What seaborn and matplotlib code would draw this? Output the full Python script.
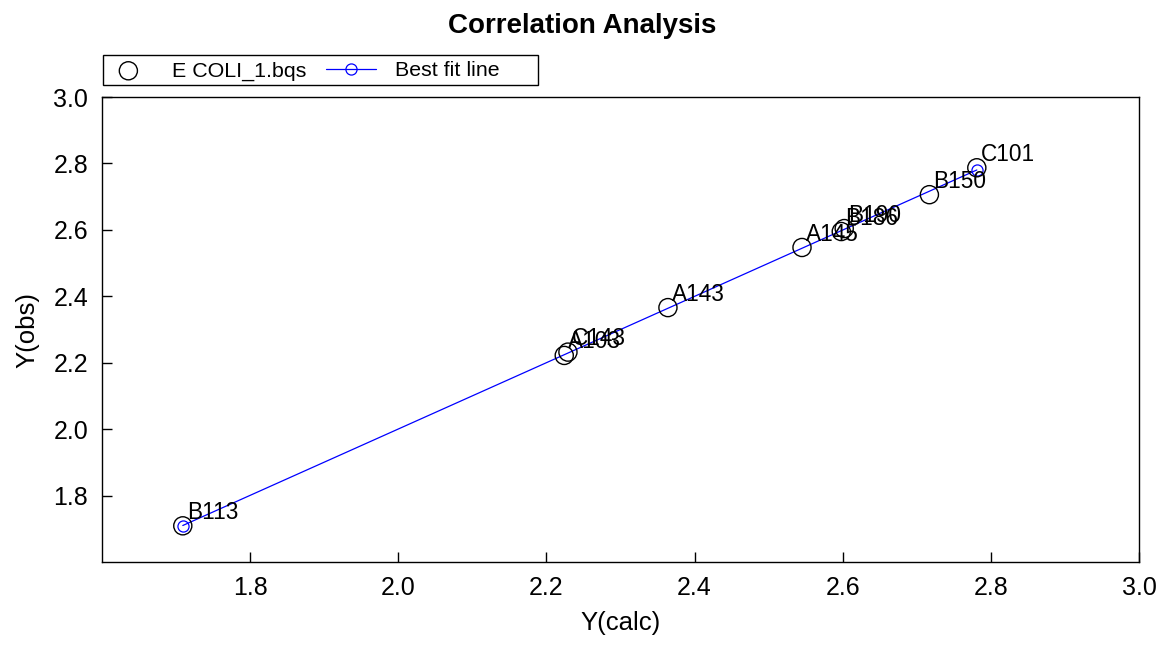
import matplotlib
matplotlib.use('Agg')
import numpy as np
import pandas as pd
import matplotlib.pyplot as plt
import seaborn as sns
from matplotlib.patches import Rectangle

labels = ['B113', 'A103', 'C143', 'A143', 'A145', 'B186', 'B190', 'B150', 'C101']
y_calc = [1.709, 2.224, 2.229, 2.364, 2.545, 2.598, 2.602, 2.717, 2.781]
y_obs = [1.709, 2.222, 2.232, 2.366, 2.547, 2.595, 2.604, 2.706, 2.787]
ticks = [1.8, 2.0, 2.2, 2.4, 2.6, 2.8, 3.0]

df = pd.DataFrame({'label': labels, 'calc': y_calc, 'obs': y_obs})

sns.set_theme(style='white')
plt.rcParams['font.family'] = ['Liberation Sans', 'DejaVu Sans']
plt.rcParams['text.color'] = 'black'
plt.rcParams['axes.labelcolor'] = 'black'
plt.rcParams['xtick.color'] = 'black'
plt.rcParams['ytick.color'] = 'black'

fig = plt.figure(figsize=(11.65, 6.46), dpi=100)
ax = fig.add_axes([0.0876, 0.130, 0.8901, 0.7198])

# best fit line through the data, drawn between the extreme x values
slope, intercept = np.polyfit(df['calc'], df['obs'], 1)
fit_x = np.array([df['calc'].min(), df['calc'].max()])
ax.plot(fit_x, intercept + slope * fit_x, color='blue', lw=0.9,
        marker='o', ms=8, mfc='none', mec='blue', mew=0.9,
        label='Best fit line', zorder=2)

sns.scatterplot(data=df, x='calc', y='obs', ax=ax, s=170, facecolor='none',
                edgecolor='black', linewidth=1.0, label='E COLI_1.bqs', zorder=3)

for _, r in df.iterrows():
    ax.annotate(r['label'], (r['calc'], r['obs']), xytext=(3, 5),
                textcoords='offset points', ha='left', va='baseline', fontsize=16.3)

ax.set_xlim(1.6, 3.0)
ax.set_ylim(1.6, 3.0)
ax.set_xticks(ticks)
ax.set_yticks(ticks)
ax.set_xticklabels([f'{t:.1f}' for t in ticks])
ax.set_yticklabels([f'{t:.1f}' for t in ticks])
ax.tick_params(direction='in', length=7, width=1, labelsize=18, color='black',
               bottom=True, left=True, pad=10)
for sp in ax.spines.values():
    sp.set_color('black')
    sp.set_linewidth(1)

ax.set_xlabel('Y(calc)', fontsize=18.5, labelpad=8)
ax.set_ylabel('Y(obs)', fontsize=18.5, labelpad=10)
fig.suptitle('Correlation Analysis', fontsize=20, fontweight='bold', y=0.98)

handles, hlabels = ax.get_legend_handles_labels()
ax.get_legend().remove()
order = [hlabels.index('E COLI_1.bqs'), hlabels.index('Best fit line')]
leg = fig.legend([handles[i] for i in order], [hlabels[i] for i in order],
                 loc='lower left', bbox_to_anchor=(98 / 1165, 1 - 86 / 646), ncol=2,
                 fontsize=15.4, frameon=False, borderpad=0.25,
                 handlelength=2.34, handletextpad=0.85, columnspacing=0.95,
                 borderaxespad=0)

# legend frame, a bit wider than the entries as in the reference
fig.patches.append(Rectangle((103 / 1165, 1 - 85 / 646), 435 / 1165, 30 / 646,
                             transform=fig.transFigure, fill=False,
                             edgecolor='black', linewidth=1))

fig.savefig('out.png', dpi=100)
